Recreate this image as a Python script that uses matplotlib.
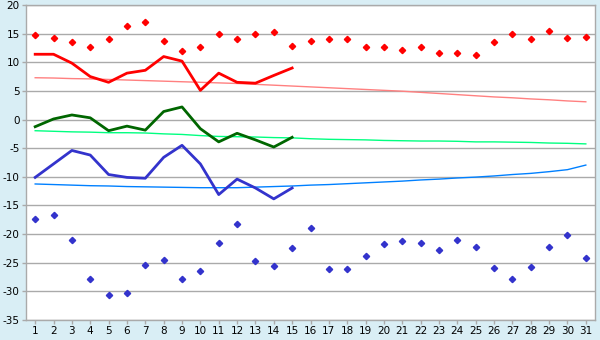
"""
Daily temperature chart: max/min points, daily mean lines and trend curves.
"""

import matplotlib
matplotlib.use("Agg")
import matplotlib.pyplot as plt

plt.rcParams["axes.unicode_minus"] = False

days = list(range(1, 32))

max_points = [14.7, 14.2, 13.6, 12.75, 14.0, 16.4, 17.0, 13.8, 11.9, 12.6,
              15.0, 14.0, 15.0, 15.2, 12.9, 13.8, 14.0, 14.0, 12.75, 12.75,
              12.2, 12.75, 11.7, 11.7, 11.35, 13.6, 14.85, 14.0, 15.4, 14.3, 14.5]
min_points = [-17.3, -16.65, -21.0, -27.85, -30.65, -30.3, -25.4, -24.5, -27.85, -26.45,
              -21.55, -18.25, -24.7, -25.6, -22.4, -18.95, -26.1, -26.1, -23.85, -21.75,
              -21.2, -21.55, -22.8, -21.05, -22.25, -25.9, -27.85, -25.75, -22.25, -20.15, -24.2]

line_days = list(range(1, 16))
max_line = [11.4, 11.4, 9.85, 7.5, 6.5, 8.1, 8.6, 11.0, 10.2, 5.1,
            8.1, 6.5, 6.35, 7.7, 9.0]
mean_line = [-1.25, 0.1, 0.8, 0.3, -1.95, -1.15, -1.85, 1.4, 2.2, -1.6,
             -3.9, -2.4, -3.55, -4.8, -3.1]
min_line = [-10.1, -7.75, -5.4, -6.2, -9.6, -10.1, -10.25, -6.6, -4.5, -7.75,
            -13.1, -10.4, -11.95, -13.85, -11.95]

max_trend = [7.3, 7.25, 7.15, 7.1, 7.0, 6.9, 6.8, 6.7, 6.6, 6.5,
             6.4, 6.3, 6.15, 6.0, 5.85, 5.7, 5.55, 5.4, 5.25, 5.1,
             4.95, 4.75, 4.55, 4.35, 4.15, 3.95, 3.8, 3.6, 3.45, 3.25, 3.1]
mean_trend = [-1.95, -2.05, -2.15, -2.2, -2.3, -2.3, -2.35, -2.5, -2.6, -2.8,
              -2.95, -3.0, -3.05, -3.15, -3.2, -3.35, -3.45, -3.5, -3.55, -3.65,
              -3.7, -3.75, -3.75, -3.8, -3.9, -3.9, -3.95, -4.0, -4.1, -4.15, -4.25]
min_trend = [-11.25, -11.35, -11.45, -11.55, -11.6, -11.7, -11.75, -11.8, -11.85, -11.9,
             -11.9, -11.9, -11.8, -11.7, -11.6, -11.45, -11.35, -11.2, -11.05, -10.9,
             -10.75, -10.55, -10.4, -10.2, -10.05, -9.85, -9.6, -9.4, -9.1, -8.75, -7.95]

fig = plt.figure(figsize=(6, 3.4), dpi=100, facecolor="#D9EEF5")
ax = fig.add_axes([26 / 600, 20 / 340, 569 / 600, 315 / 340])
ax.set_facecolor("white")

ax.yaxis.grid(True, color="#AAAAAA", linewidth=1)
ax.set_axisbelow(True)

ax.plot(days, max_trend, color="#FF8080", linewidth=1)
ax.plot(days, mean_trend, color="#00FF80", linewidth=1)
ax.plot(days, min_trend, color="#0080FF", linewidth=1)

ax.plot(line_days, max_line, color="#FF0000", linewidth=2.0)
ax.plot(line_days, mean_line, color="#006600", linewidth=2.0)
ax.plot(line_days, min_line, color="#3333CC", linewidth=2.0)

ax.plot(days, max_points, linestyle="none", marker="D", markersize=3.2, color="#FF0000")
ax.plot(days, min_points, linestyle="none", marker="D", markersize=3.2, color="#3333CC")

ax.set_xlim(0.5, 31.5)
ax.set_ylim(-35, 20)
ax.set_xticks(days)
ax.set_yticks(range(-35, 21, 5))

for side in ["left", "right", "top", "bottom"]:
    ax.spines[side].set_color("#AAAAAA")
    ax.spines[side].set_linewidth(1)

ax.tick_params(axis="both", colors="#AAAAAA", labelcolor="black", labelsize=7.5,
               length=3, width=1, pad=1.5)

fig.savefig("out.png", dpi=100, facecolor=fig.get_facecolor())
